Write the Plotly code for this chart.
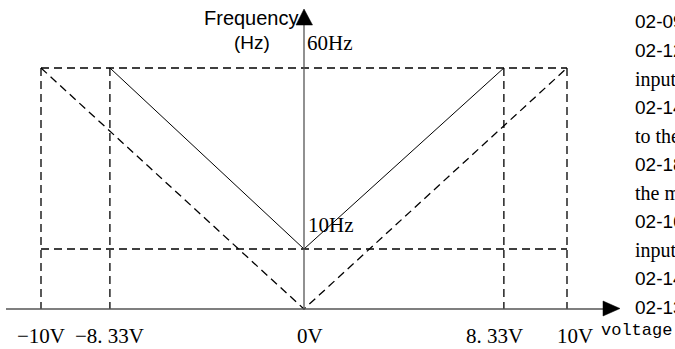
import plotly.graph_objects as go

# ---- data (schematic positions) ----
volt_pos = [-10, -7.38, 0, 7.6, 10]          # horizontal positions of the marked voltages
volt_labels = ["\u221210V", "\u22128. 33V", "0V", "8. 33V", "10V"]
freq_max = 60                                 # 60Hz level
freq_min_draw = 14.94                         # drawn height of the 10Hz level
freq_labels = ["60Hz", "10Hz"]
solid_x = [-7.38, 0, 7.6]
solid_y = [60, 14.94, 60]
dash_v_x = [-10, 0, 10]
dash_v_y = [60, 0, 60]
side_text = ["02-09", "02-12", "input", "02-14", "to the", "02-18",
             "the m", "02-16", "input", "02-14", "02-13"]
side_serif = [False, False, True, False, True, False, True, False, True, False, False]

W, H = 675, 349
X0, PXV = 304, 26.3      # pixel of 0V, pixels per volt
Y0, PXHZ = 309, 4.017    # pixel of 0Hz, pixels per Hz

def dx(px):
    return (px - X0) / PXV

def dy(py):
    return (Y0 - py) / PXHZ

fig = go.Figure()
dash = "8px,5px"
blk = dict(color="black", width=1.3, dash=dash)

# dashed horizontals
for yv in [freq_max, freq_min_draw]:
    fig.add_trace(go.Scatter(x=[volt_pos[0], volt_pos[-1]], y=[yv, yv], mode="lines", line=blk))
# dashed verticals
for xv in [volt_pos[0], volt_pos[1], volt_pos[3], volt_pos[4]]:
    fig.add_trace(go.Scatter(x=[xv, xv], y=[freq_max, 0], mode="lines", line=blk))
# dashed V
fig.add_trace(go.Scatter(x=dash_v_x, y=dash_v_y, mode="lines", line=blk))
# solid V
fig.add_trace(go.Scatter(x=solid_x, y=solid_y, mode="lines", line=dict(color="black", width=1)))

# axes
axc = "#555555"
fig.add_trace(go.Scatter(x=[dx(6), dx(606)], y=[0, 0], mode="lines", line=dict(color=axc, width=1.3)))
fig.add_trace(go.Scatter(x=[0, 0], y=[0, dy(24)], mode="lines", line=dict(color=axc, width=1.3)))

shapes = [
    dict(type="path", xref="x", yref="y",
         path=f"M {dx(603)} {dy(301)} L {dx(620)} {dy(308.5)} L {dx(603)} {dy(316)} Z",
         fillcolor="black", line=dict(color="black", width=0.5)),
    dict(type="path", xref="x", yref="y",
         path=f"M {dx(296)} {dy(25)} L {dx(304)} {dy(9)} L {dx(312.5)} {dy(25)} Z",
         fillcolor="black", line=dict(color="black", width=0.5)),
]

ann = []
serif = "Liberation Serif"
sans = "Liberation Sans"

def P(x, y):
    return x / W, 1 - y / H

def text(t, xpx, ypx, font, size, xanchor="center"):
    px, py = P(xpx, ypx)
    ann.append(dict(text=t, x=px, y=py, xref="paper", yref="paper", showarrow=False,
                    xanchor=xanchor, yanchor="middle",
                    font=dict(family=font, size=size, color="black")))

text("Frequency", 251, 18, sans, 20)
text("(Hz)", 252, 43, sans, 19)
text(freq_labels[0], 305, 43, serif, 21, "left")
text(freq_labels[1], 306, 225, serif, 21, "left")

label_px = [41, 109, 310, 495, 575]
for lab, lx in zip(volt_labels, label_px):
    text(lab, lx, 336, serif, 21)
text("voltage", 599, 330, "Liberation Mono", 17, "left")

for i, (t, s) in enumerate(zip(side_text, side_serif)):
    text(t, 633, 22 + 28.5 * i, serif if s else sans, 20 if s else 19, "left")

fig.update_layout(
    width=W, height=H, margin=dict(l=0, r=0, t=0, b=0),
    paper_bgcolor="white", plot_bgcolor="white", showlegend=False,
    xaxis=dict(range=[dx(0), dx(W)], visible=False, fixedrange=True),
    yaxis=dict(range=[dy(H), dy(0)], visible=False, fixedrange=True),
    shapes=shapes, annotations=ann,
)
fig.write_html("out.html", config={"displayModeBar": False},
               post_script="document.body.style.margin='0px';")
